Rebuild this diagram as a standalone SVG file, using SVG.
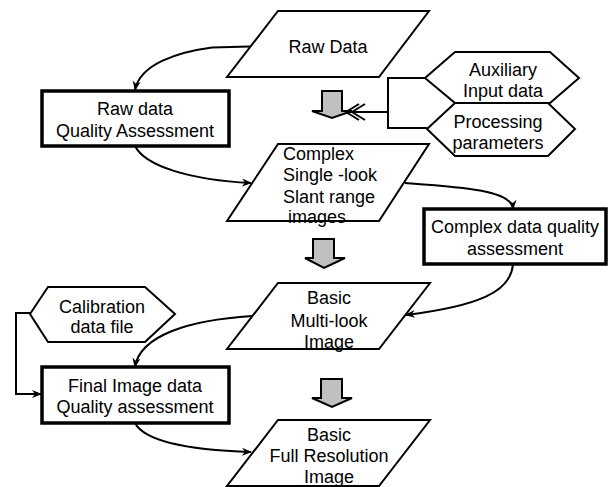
<svg xmlns="http://www.w3.org/2000/svg" width="609" height="487" viewBox="0 0 609 487">
<defs>
<marker id="ah" viewBox="0 0 10 10" refX="9" refY="5" markerWidth="10" markerHeight="10" markerUnits="userSpaceOnUse" orient="auto">
<path d="M0,1 L10,5 L0,9 L3,5 Z" fill="#000"/>
</marker>
</defs>
<style>
text{font-family:"Liberation Sans",Arial,sans-serif;font-size:18px;fill:#000}
.c{text-anchor:middle}
.sh{fill:#fff;stroke:#000;stroke-width:2;stroke-linejoin:miter}
.bx{fill:#fff;stroke:#000;stroke-width:3.5}
.blk{fill:#c0c0c0;stroke:#000;stroke-width:2;stroke-linejoin:miter}
.ln{fill:none;stroke:#000;stroke-width:2}
.ar{fill:none;stroke:#000;stroke-width:2;marker-end:url(#ah)}
</style>
<rect width="609" height="487" fill="#fff"/>
<g id="connectors">
<path class="ar" d="M250,46.5 L212,47.5 C178,52 140,64 135,90"/>
<path class="ar" d="M135,146 C145,166 190,180 251,183"/>
<path class="ar" d="M405,183 C460,187 512,190 513,209"/>
<path class="ar" d="M513,264 C511,292 478,306 406,315"/>
<path class="ar" d="M252,316 C190,320 140,335 135,367"/>
<path class="ar" d="M135,423 C145,442 190,450 251,452"/>
<path class="ar" d="M30,313 H16 V394 H41"/>
<path class="ln" d="M425,78 H388 V128 H427"/>
<path class="ln" d="M388,112 H346"/>
<path class="ln" d="M359,104 L346,112 L359,120 M365,104 L352,112 L365,120"/>
</g>
<g id="block1"><path class="blk" d="M322,91 H342 V111 H352 L332,118 L312,111 H322 Z"/></g>
<g id="block2"><path class="blk" d="M313,239 H334 V258 H345 L324,268 L305,258 H313 Z"/></g>
<g id="block3"><path class="blk" d="M321,379 H342 V398 H352 L332,407 L312,398 H321 Z"/></g>
<g id="raw-data">
<path class="sh" d="M278,11 H429 L379,77 H227 Z"/>
<text class="c" x="328" y="53">Raw Data</text>
</g>
<g id="raw-qa">
<rect class="bx" x="42" y="91" width="187" height="55"/>
<text class="c" x="135" y="115">Raw data</text>
<text class="c" x="135" y="137">Quality Assessment</text>
</g>
<g id="auxiliary">
<path class="sh" d="M425,78 L455,52 H550 L579,78 L550,103 H455 Z"/>
<text class="c" x="503" y="76">Auxiliary</text>
<text class="c" x="503" y="97">Input data</text>
</g>
<g id="processing">
<path class="sh" d="M427,129 L455,103 H548 L575,129 L548,156 H455 Z"/>
<text class="c" x="498" y="128">Processing</text>
<text class="c" x="498" y="149">parameters</text>
</g>
<g id="slc">
<path class="sh" d="M278,144 H429 L379,221 H227 Z"/>
<text x="283" y="160">Complex</text>
<text x="283" y="181">Single -look</text>
<text x="283" y="203">Slant range</text>
<text x="288" y="223">images</text>
<path class="ln" d="M227,221 H379"/>
</g>
<g id="complex-qa">
<rect class="bx" x="424" y="209" width="182" height="55"/>
<text class="c" x="515" y="233">Complex data quality</text>
<text class="c" x="515" y="255">assessment</text>
</g>
<g id="multilook">
<path class="sh" d="M278,283 H430 L379,349 H227 Z"/>
<text class="c" x="329" y="304">Basic</text>
<text class="c" x="329" y="327">Multi-look</text>
<text class="c" x="329" y="348">Image</text>
</g>
<g id="calibration">
<path class="sh" d="M30,314 L48,287 H145 L175,314 L145,342 H48 Z"/>
<text class="c" x="102" y="313">Calibration</text>
<text class="c" x="102" y="333">data file</text>
</g>
<g id="final-qa">
<rect class="bx" x="42" y="367" width="187" height="56"/>
<text class="c" x="135" y="392">Final Image data</text>
<text class="c" x="135" y="413">Quality assessment</text>
</g>
<g id="fullres">
<path class="sh" d="M278,420 H430 L379,486 H227 Z"/>
<text class="c" x="329" y="441">Basic</text>
<text class="c" x="329" y="462">Full Resolution</text>
<text class="c" x="329" y="483">Image</text>
</g>
</svg>
